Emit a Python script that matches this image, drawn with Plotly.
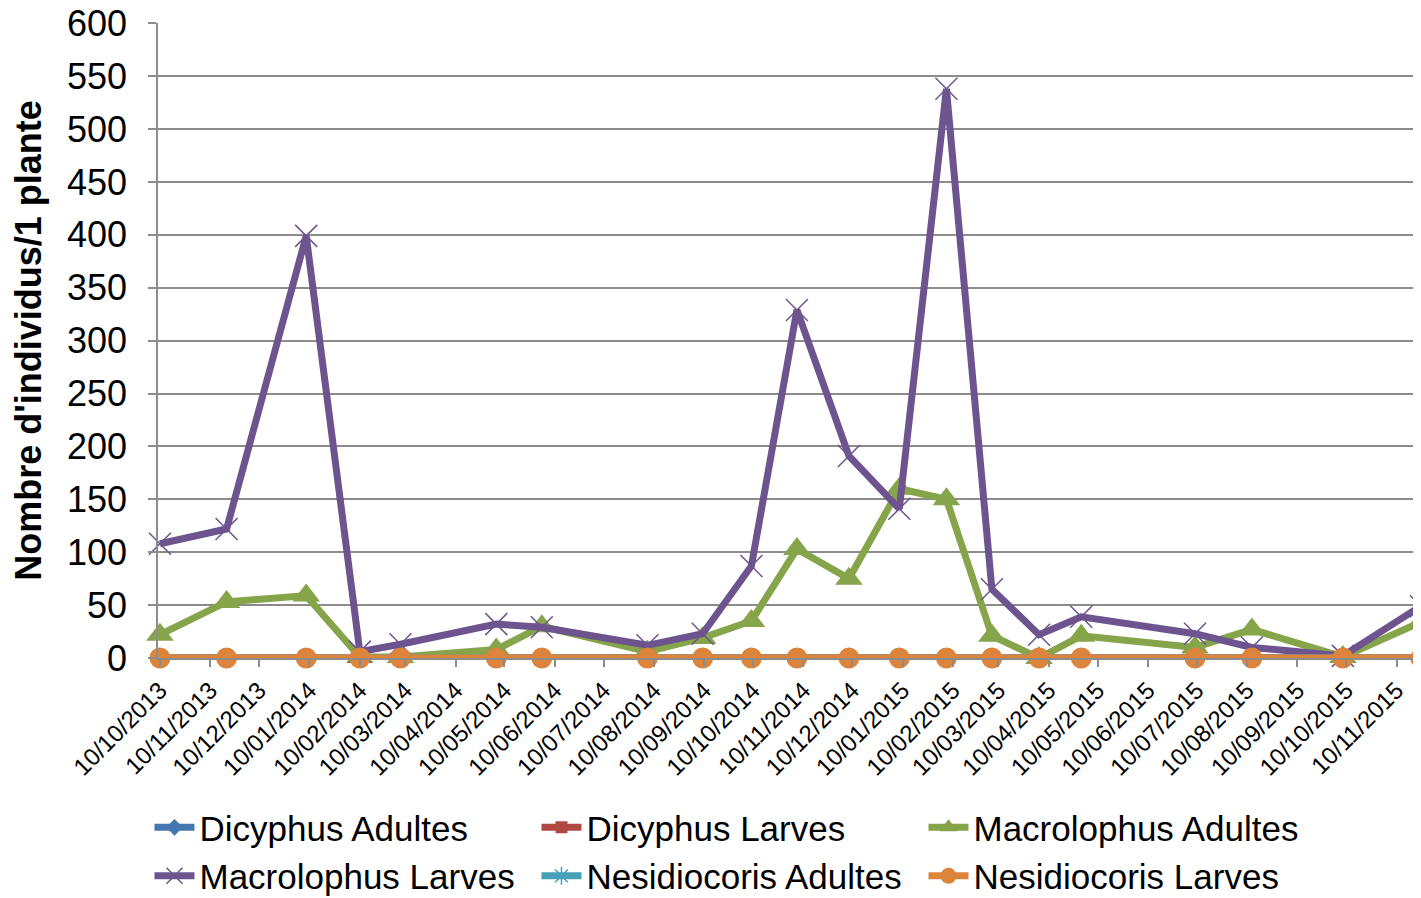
import plotly.graph_objects as go

dates = ["2013-10-10", "2013-11-20", "2014-01-08", "2014-02-10", "2014-03-07",
         "2014-05-05", "2014-06-02", "2014-08-06", "2014-09-09", "2014-10-09",
         "2014-11-06", "2014-12-08", "2015-01-08", "2015-02-06", "2015-03-06",
         "2015-04-04", "2015-04-30", "2015-07-09", "2015-08-13", "2015-10-08",
         "2015-11-25"]

dicyphus_adultes = [0] * 21
dicyphus_larves = [0] * 21
macrolophus_adultes = [22, 53, 59, 1, 1, 8, 30, 6, 19, 35, 103, 75, 160, 150, 21, 0, 21, 10, 27, 1, 34]
macrolophus_larves = [108, 122, 399, 6, 13, 32, 29, 12, 23, 87, 329, 191, 141, 538, 65, 22, 39, 23, 10, 2, 49]
nesidiocoris_adultes = [0] * 21
nesidiocoris_larves = [0] * 21

tick_vals = ["2013-10-10", "2013-11-10", "2013-12-10", "2014-01-10", "2014-02-10",
             "2014-03-10", "2014-04-10", "2014-05-10", "2014-06-10", "2014-07-10",
             "2014-08-10", "2014-09-10", "2014-10-10", "2014-11-10", "2014-12-10",
             "2015-01-10", "2015-02-10", "2015-03-10", "2015-04-10", "2015-05-10",
             "2015-06-10", "2015-07-10", "2015-08-10", "2015-09-10", "2015-10-10",
             "2015-11-10"]
tick_text = ["10/10/2013", "10/11/2013", "10/12/2013", "10/01/2014", "10/02/2014",
             "10/03/2014", "10/04/2014", "10/05/2014", "10/06/2014", "10/07/2014",
             "10/08/2014", "10/09/2014", "10/10/2014", "10/11/2014", "10/12/2014",
             "10/01/2015", "10/02/2015", "10/03/2015", "10/04/2015", "10/05/2015",
             "10/06/2015", "10/07/2015", "10/08/2015", "10/09/2015", "10/10/2015",
             "10/11/2015"]

series = [
    ("Dicyphus Adultes", dicyphus_adultes, "#4676B0", "diamond", 13, 0),
    ("Dicyphus Larves", dicyphus_larves, "#B24843", "square", 12, 0),
    ("Macrolophus Adultes", macrolophus_adultes, "#86A44A", "triangle-up", 24, 0),
    ("Macrolophus Larves", macrolophus_larves, "#6E548F", "x-thin-open", 22, 1.5),
    ("Nesidiocoris Adultes", nesidiocoris_adultes, "#45A0B8", "asterisk-open", 15, 1.5),
    ("Nesidiocoris Larves", nesidiocoris_larves, "#DD843C", "circle", 21, 0),
]

fig = go.Figure()
for name, vals, color, sym, size, mlw in series:
    fig.add_trace(go.Scatter(
        x=dates, y=vals, name=name, mode="lines+markers",
        line=dict(color=color, width=7),
        marker=dict(symbol=sym, size=size, color=color,
                    line=dict(color=color, width=mlw)),
        cliponaxis=False,
    ))

fig.update_layout(
    width=1421, height=898,
    margin=dict(l=150, r=0, t=15, b=248, autoexpand=False),
    paper_bgcolor="white", plot_bgcolor="white",
    font=dict(family="Liberation Sans, Arial, sans-serif", color="black"),
    showlegend=True,
    legend=dict(
        orientation="h", x=-0.0067, y=-0.2206, xanchor="left", yanchor="top",
        font=dict(size=35, color="black"),
        entrywidth=332, entrywidthmode="pixels",
        itemwidth=40, tracegroupgap=0,
        bgcolor="rgba(0,0,0,0)",
    ),
    xaxis=dict(
        type="date", automargin=False,
        range=["2013-10-08 19:00", "2015-11-30 00:00"],
        tickmode="array", tickvals=tick_vals, ticktext=tick_text,
        tickangle=-45, tickfont=dict(size=24, color="black"),
        ticklabeloverflow="allow",
        showgrid=False, showline=True, linecolor="#8c8c8c", linewidth=1.5,
        ticks="outside", ticklen=7, tickcolor="#8c8c8c", tickwidth=1.5,
        zeroline=False,
    ),
    yaxis=dict(
        range=[0, 600.2], dtick=50, tick0=0, automargin=False,
        tickfont=dict(size=36, color="black"),
        ticklabeloverflow="allow",
        showgrid=True, gridcolor="#8c8c8c", gridwidth=1.5,
        showline=True, linecolor="#8c8c8c", linewidth=1.5,
        ticks="outside", ticklen=8, tickcolor="#8c8c8c", tickwidth=1.5,
        ticklabelstandoff=14,
        zeroline=False,
        title=dict(text="<b>Nombre d'individus/1 plante</b>",
                   font=dict(size=36, color="black"), standoff=16),
    ),
)

fig.write_html("out.html")
